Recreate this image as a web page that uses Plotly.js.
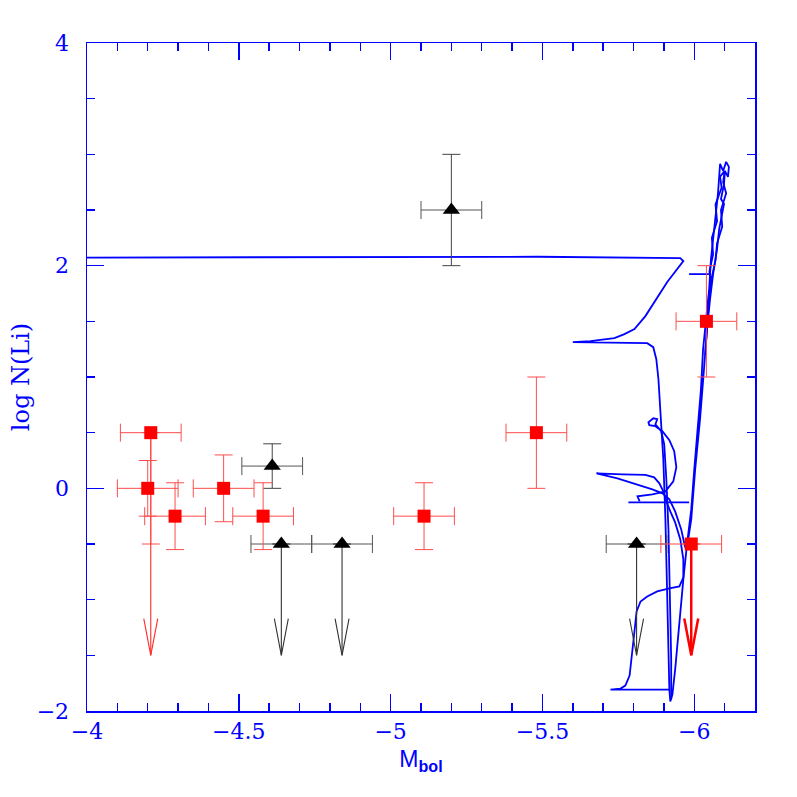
<!DOCTYPE html>
<html>
<head>
<meta charset="utf-8">
<script src="https://cdn.plot.ly/plotly-3.0.1.min.js"></script>
<style>html,body{margin:0;padding:0;background:#fff;}#chart{width:797px;height:797px;}</style>
</head>
<body>
<div id="chart"></div>
<script>
// ---- Data ----
// Red squares (x = Mbol, y = log N(Li))
var redX = [-4.21, -4.20, -4.29, -4.45, -4.58, -5.11, -5.48, -6.04, -5.99];
var redY = [0.5, 0.0, -0.25, 0.0, -0.25, -0.25, 0.5, 1.5, -0.5];
var redErrX = [0.1, 0.1, 0.1, 0.1, 0.1, 0.1, 0.1, 0.1, 0.1];
var redErrYPlus = [0, 0.25, 0.3, 0.3, 0.3, 0.3, 0.5, 0.5, 0];
var redErrYMinus = [1.0, 0.25, 0.3, 0.3, 0.3, 0.3, 0.5, 0.5, 0];
// Red upper limits
var redLimX = [-4.21, -5.99];
var redLimY = [0.5, -0.5];
var redLimTo = [-1.5, -1.5];

// Black triangles
var blkX = [-5.20, -4.61, -4.64, -4.84, -5.81];
var blkY = [2.5, 0.2, -0.5, -0.5, -0.5];
var blkErrX = [0.1, 0.1, 0.1, 0.1, 0.1];
var blkErrY = [0.5, 0.2, 0, 0, 0];
// Black upper limits
var blkLimX = [-4.64, -4.84, -5.81];
var blkLimY = [-0.5, -0.5, -0.5];
var blkLimTo = [-1.5, -1.5, -1.5];

// Evolutionary track (null = gap)
var trackX = [
 -4.000, -5.485, -5.954, -5.964, -5.911, -5.868, -5.839, -5.803, -5.770, -5.737, -5.658, -5.600,
 -5.714, -5.845, -5.865, -5.875, -5.882, -5.888, -5.898, -5.905, -5.911, -5.915, -5.918, -5.921,
 -5.928, -5.937, -5.951, -5.964, -5.976, -5.990, -6.000, -6.013, -6.022, -6.029, -6.039, -6.049,
 -6.055, -6.068, -6.078, -6.085, -6.095, -6.105, -6.114, -6.111, -6.101, -6.098, -6.088, -6.098,
 -6.082, -6.075, -6.062, -6.052, -6.042, -6.032, -6.019, -6.003, -5.990, -5.976, null,
 -6.040, -6.045, -6.055, -6.050, -6.062, -6.058, -6.075, -6.070, -6.090, -6.085, -6.100, -6.095,
 -6.105, -6.088, -6.092, -6.075, -6.070, -6.058, -6.050, -6.045, -6.040, -6.036, null,
 -5.921, -5.724, -5.757, -5.773, -5.787, -5.793, -5.803, -5.810, -5.823, -5.845, -5.878, -5.918,
 -5.951, -5.964, -5.964, -5.954, -5.937, -5.921, -5.908, -5.898, -5.885, -5.868, -5.839, -5.764,
 -5.678, -5.747, -5.813, -5.862, -5.895, -5.918, -5.937, -5.957, -5.970, null,
 -5.783, -5.983, null,
 -5.983, -6.049, null,
 -5.820, -5.813, -5.862, -5.905, -5.931, -5.941, -5.934, -5.918, -5.895, -5.872, -5.852, -5.849,
 -5.865, -5.878, -5.872, -5.891, -5.901, -5.908, -5.915, -5.921, -5.924, -5.924
];
var trackY = [
 2.073, 2.080, 2.068, 2.041, 1.853, 1.673, 1.547, 1.430, 1.385, 1.349, 1.322, 1.313,
 1.308, 1.304, 1.268, 1.160, 0.980, 0.710, 0.261, -0.279, -0.998, -1.538, -1.808, -1.915,
 -1.853, -1.628, -1.178, -0.818, -0.504, -0.189, 0.171, 0.621, 0.890, 1.250, 1.520, 1.790,
 2.059, 2.374, 2.644, 2.914, 2.851, 2.932, 2.887, 2.797, 2.851, 2.734, 2.599, 2.554,
 2.329, 2.149, 1.924, 1.700, 1.430, 1.070, 0.621, 0.171, -0.279, -0.531, null,
 1.400, 1.600, 1.850, 1.950, 2.100, 2.250, 2.400, 2.550, 2.700, 2.800, 2.850, 2.750,
 2.650, 2.500, 2.350, 2.200, 2.050, 1.900, 1.750, 1.550, 1.400, 1.200, null,
 -1.808, -1.808, -1.799, -1.772, -1.682, -1.511, -1.286, -1.106, -1.016, -0.971, -0.926, -0.899,
 -0.881, -0.800, -0.638, -0.459, -0.306, -0.207, -0.117, -0.027, 0.045, 0.099, 0.121, 0.126,
 0.135, 0.090, 0.036, -0.009, -0.045, -0.099, -0.207, -0.369, -0.531, null,
 -0.126, -0.126, null,
 1.924, 1.924, null,
 -0.117, -0.072, -0.054, -0.027, 0.063, 0.189, 0.333, 0.432, 0.513, 0.558, 0.567, 0.594,
 0.629, 0.621, 0.576, 0.513, 0.396, 0.081, -0.369, -0.998, -1.538, -1.897
];

// ---- Styles ----
var BLUE = '#0000ff';
var headHalfW = 0.023;   // arrow head half-width (data units of x)
var headLen = 0.33;      // arrow head length (data units of y)

function arrowPaths(xs, ys, tos) {
  var ax = [], ay = [];
  for (var i = 0; i < xs.length; i++) {
    ax.push(xs[i], xs[i], null, xs[i] - headHalfW, xs[i], xs[i] + headHalfW, null);
    ay.push(ys[i], tos[i], null, tos[i] + headLen, tos[i], tos[i] + headLen, null);
  }
  return {x: ax, y: ay};
}

var redThin = arrowPaths([redLimX[0]], [redLimY[0]], [redLimTo[0]]);
var redThick = arrowPaths([redLimX[1]], [redLimY[1]], [redLimTo[1]]);
var blkArr = arrowPaths(blkLimX, blkLimY, blkLimTo);

var traces = [
  {x: trackX, y: trackY, mode: 'lines', type: 'scatter', connectgaps: false,
   line: {color: BLUE, width: 1.8}, hoverinfo: 'skip', showlegend: false},
  {x: blkArr.x, y: blkArr.y, mode: 'lines', type: 'scatter',
   line: {color: '#333333', width: 1.1}, showlegend: false, hoverinfo: 'skip'},
  {x: redThin.x, y: redThin.y, mode: 'lines', type: 'scatter',
   line: {color: '#ff2a2a', width: 1.1}, showlegend: false, hoverinfo: 'skip'},
  {x: redThick.x, y: redThick.y, mode: 'lines', type: 'scatter',
   line: {color: '#ff0000', width: 2.5}, showlegend: false, hoverinfo: 'skip'},
  {x: blkX, y: blkY, mode: 'markers', type: 'scatter', showlegend: false,
   marker: {symbol: 'triangle-up', size: 15, color: '#000000'},
   error_x: {type: 'data', array: blkErrX, color: '#555555', thickness: 1, width: 9},
   error_y: {type: 'data', array: blkErrY, color: '#444444', thickness: 1, width: 9}},
  {x: redX, y: redY, mode: 'markers', type: 'scatter', showlegend: false,
   marker: {symbol: 'square', size: 13, color: '#ff0000'},
   error_x: {type: 'data', array: redErrX, color: '#ff4d4d', thickness: 1, width: 9},
   error_y: {type: 'data', symmetric: false, array: redErrYPlus, arrayminus: redErrYMinus,
             color: '#ff4d4d', thickness: 1, width: 9}}
];

var tickFont = {family: 'DejaVu Serif', size: 22, color: BLUE};

var layout = {
  width: 797, height: 797,
  paper_bgcolor: '#ffffff', plot_bgcolor: '#ffffff',
  margin: {l: 87, r: 42, t: 43, b: 86, pad: 0},
  showlegend: false,
  xaxis: {
    range: [-4, -6.2], autorange: false,
    showgrid: false, zeroline: false,
    showline: true, linecolor: BLUE, linewidth: 1.5, mirror: 'ticks',
    ticks: 'inside', ticklen: 17, tickwidth: 1.5, tickcolor: BLUE,
    tick0: -4, dtick: 0.5, tickfont: tickFont, ticklabelstandoff: 0,
    minor: {ticks: 'inside', ticklen: 8, tickwidth: 1.5, tickcolor: BLUE, dtick: 0.1, tick0: -4, showgrid: false},
    automargin: false,
    title: {text: 'M<sub><b>bol</b></sub>', standoff: 8,
            font: {family: 'Liberation Sans', size: 23, color: BLUE}}
  },
  yaxis: {
    range: [-2, 4], autorange: false,
    showgrid: false, zeroline: false,
    showline: true, linecolor: BLUE, linewidth: 1.5, mirror: 'ticks',
    ticks: 'inside', ticklen: 17, tickwidth: 1.5, tickcolor: BLUE,
    tick0: -2, dtick: 2, tickfont: tickFont, ticklabelstandoff: 12,
    minor: {ticks: 'inside', ticklen: 8, tickwidth: 1.5, tickcolor: BLUE, dtick: 0.5, tick0: -2, showgrid: false},
    automargin: false,
    title: {text: 'log N(Li)', standoff: 0,
            font: {family: 'DejaVu Serif', size: 24, color: BLUE}}
  }
};

Plotly.newPlot('chart', traces, layout, {displayModeBar: false, staticPlot: true});
</script>
</body>
</html>
